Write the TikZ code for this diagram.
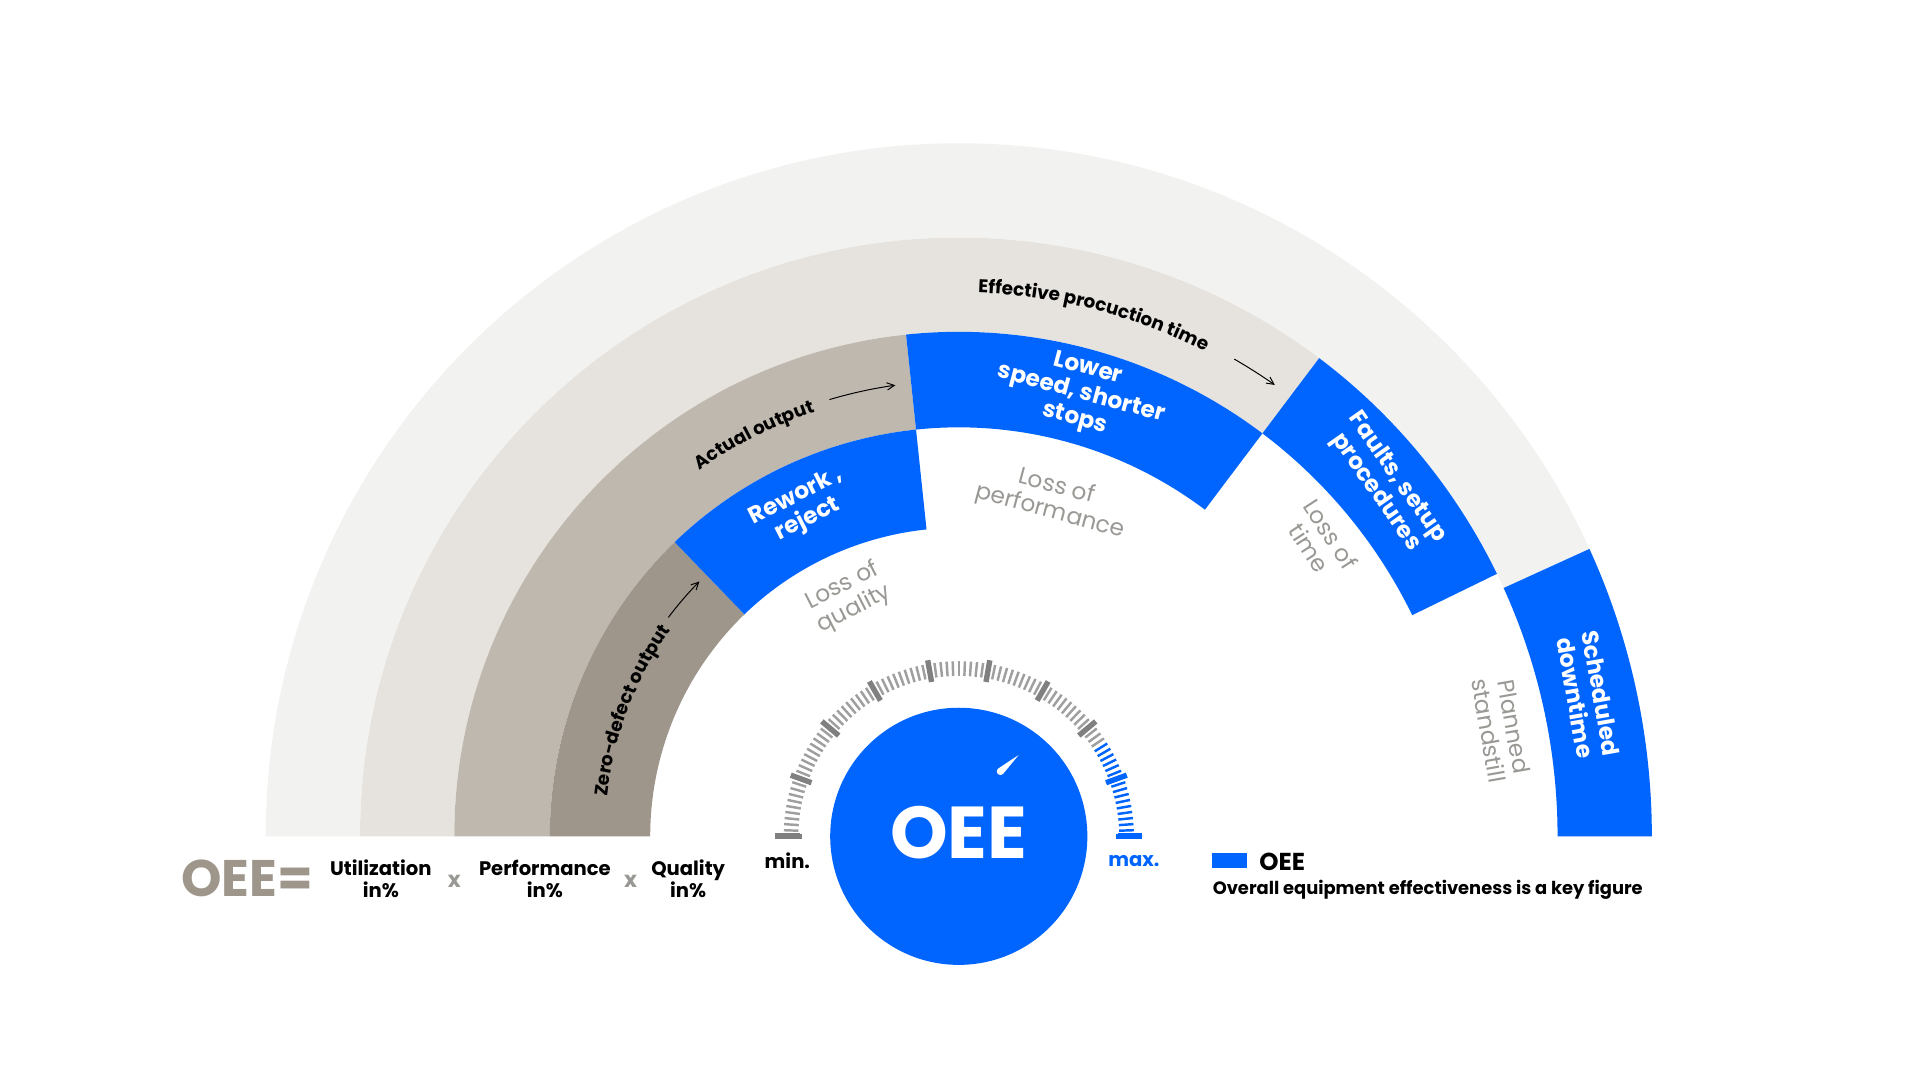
\documentclass[tikz,border=0pt]{standalone}
\usepackage{fontspec}
\setmainfont{Poppins}
\usetikzlibrary{calc,decorations.text,arrows.meta}
\definecolor{oblue}{HTML}{0064FF}
\definecolor{r1}{HTML}{F2F2F0}
\definecolor{r2}{HTML}{E6E3DE}
\definecolor{r3}{HTML}{BFB8AE}
\definecolor{r4}{HTML}{9E968B}
\definecolor{lossgrey}{HTML}{9A9894}
\newcommand\myband[5]{\fill[#1] ($(C)+(#2:#4)$) arc[start angle=#2,end angle=#3,radius=#4] -- ($(C)+(#3:#5)$) arc[start angle=#3,end angle=#2,radius=#5] -- cycle;}
\begin{document}
\begin{tikzpicture}[x=0.5pt,y=0.5pt,
  bluelbl/.style={text=white,font=\fontsize{9.5}{10.5}\selectfont\bfseries,align=center},
  losslbl/.style={text=lossgrey,font=\fontsize{9.5}{10.5}\selectfont,align=center},
  formula/.style={font=\fontsize{8}{9}\selectfont\bfseries,align=center},
  tinyarrow/.style={-{Straight Barb[length=3pt,width=3pt]},line width=0.4pt}]
\useasboundingbox (0,0) rectangle (1568,882);
\coordinate (C) at (783,199);
% rings
\myband{r1}{0}{180}{489}{566}
\myband{oblue}{0}{24.5}{489}{566}
\myband{r2}{53}{180}{412}{489}
\myband{oblue}{26}{53}{412}{489}
\myband{r3}{96}{180}{334}{412}
\myband{oblue}{53}{96}{334}{412}
\myband{r4}{134}{180}{252}{334}
\myband{oblue}{96}{134}{252}{334}
% curved labels
\path[decorate,decoration={text along path,text align=center,
  text={|\fontsize{7.5}{8}\selectfont\bfseries|Effective procuction time}}]
  ($(C)+(96:444)$) arc[start angle=96,end angle=55,radius=444];
\path[decorate,decoration={text along path,text align=center,
  text={|\fontsize{7.5}{8}\selectfont\bfseries|Actual output}}]
  ($(C)+(130:366)$) arc[start angle=130,end angle=104,radius=366];
\path[decorate,decoration={text along path,text align=center,
  text={|\fontsize{7.5}{8}\selectfont\bfseries|Zero-defect output}}]
  ($(C)+(176:289)$) arc[start angle=176,end angle=142,radius=289];
\coordinate (a1s) at ($(C)+(60:450)$);
\draw[tinyarrow] (a1s) arc[start angle=60,end angle=55,radius=450];
\draw[tinyarrow] ($(C)+(106.5:372)$) arc[start angle=106.5,end angle=98,radius=372];
\draw[tinyarrow] ($(C)+(143:297)$) arc[start angle=143,end angle=135.5,radius=297];
% blue labels
\node[bluelbl,rotate=27] (rw) at (655,467) {Rework ,\\reject};
\node[bluelbl,rotate=-15] (ls) at (883,560) {Lower\\speed, shorter\\stops};
\node[bluelbl,rotate=-55] (fs) at (1132,486) {Faults, setup\\procedures};
\node[bluelbl,rotate=-80] (sd) at (1297,314) {Scheduled\\downtime};
% loss labels
\node[losslbl,rotate=27] (lq) at (693,394) {Loss of\\quality};
\node[losslbl,rotate=-15] (lp) at (860,474) {Loss of\\performance};
\node[losslbl,rotate=-57] (lt) at (1078,440) {Loss of\\time};
\node[losslbl,rotate=-80] (pl) at (1226,287) {Planned\\standstill};
% gauge
\foreach \a in {0,2,...,180}{
  \pgfmathtruncatemacro\m{mod(\a,20)}
  \ifnum\a<33 \def\tc{oblue}\else\def\tc{gray!75}\fi
  \ifnum\m=0
    \ifnum\a<33 \def\tc{oblue}\else\def\tc{gray!100}\fi
    \draw[\tc,line width=2.2pt] ($(C)+(\a:128)$) -- ($(C)+(\a:146)$);
  \else
    \draw[\tc,line width=1pt] ($(C)+(\a:131)$) -- ($(C)+(\a:143)$);
  \fi}
\draw[gray!100,line width=2.4pt] ($(C)+(180:130)$) -- ($(C)+(180:150)$);
\draw[oblue,line width=2.4pt] ($(C)+(0:130)$) -- ($(C)+(0:150)$);
\fill[oblue] (C) circle[radius=105];
\node[text=white,font=\fontsize{30}{30}\selectfont\bfseries] (oee) at (783,202) {OEE};
\fill[white,shift={(817,252)},rotate=42] (0,-3) arc[start angle=-90,end angle=-270,radius=3] -- (20,0) -- cycle;
\node[font=\fontsize{8}{8}\selectfont\bfseries] (mn) at (643,179) {min.};
\node[text=oblue,font=\fontsize{8}{8}\selectfont\bfseries] (mx) at (926,179) {max.};
% formula
\node[text=r4,font=\fontsize{21}{21}\selectfont\bfseries] (oeq) at (202,165) {OEE=};
\node[formula] (u) at (311,164) {Utilization\\in\%};
\node[text=lossgrey,font=\fontsize{9}{9}\selectfont\bfseries] (x1) at (371,162) {x};
\node[formula] (p) at (445,164) {Performance\\in\%};
\node[text=lossgrey,font=\fontsize{9}{9}\selectfont\bfseries] (x2) at (515,162) {x};
\node[formula] (q) at (562,164) {Quality\\in\%};
% legend
\fill[oblue] (990,173) rectangle (1018,185);
\node[anchor=west,font=\fontsize{10}{10}\selectfont\bfseries,inner sep=0] (lo) at (1028,178) {OEE};
\node[anchor=west,font=\fontsize{7.3}{8}\selectfont\bfseries,inner sep=0] (ld) at (990,155) {Overall equipment effectiveness is a key figure};
\end{tikzpicture}
\end{document}
